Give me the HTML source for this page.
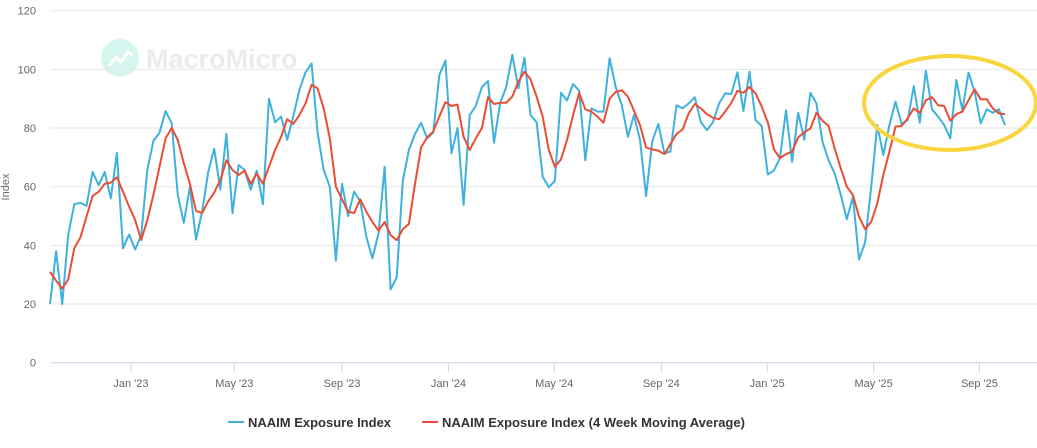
<!DOCTYPE html>
<html><head><meta charset="utf-8"><style>
body{margin:0;background:#fff;font-family:"Liberation Sans",sans-serif;}
svg{display:block}
</style></head><body>
<svg id="chart" width="1037" height="448"></svg>
<script>
const blueValues=[20,38,20,43.5,54,54.5,53.5,65,60.5,65,56,71.5,39,43.7,38.6,43.5,65.7,75.6,78.4,85.8,81.6,57.4,47.7,60,42,51.5,65,73,59,78,51,67.4,65.7,59,65.5,54,90,82,83.9,76,84,93,99,102,78.4,65.7,60,34.8,61,50,58.3,55,43,
35.6,44,66.8,25,29,62,72.5,78,81.8,76.5,78.4,98,103,71.4,80,53.8,84.4,87.5,94,96,75,88.4,94,105,93.5,104,84.4,82,63.4,59.8,62,92,89.4,95,92.7,69,86.7,85.6,85.6,103.8,94,87.8,77,84.4,76,56.8,75.3,81.4,71.4,72,87.8,86.7,88.4,
90.5,82,79.3,82,88.4,91.8,91.6,99,85.8,99.2,82.7,80.7,64.2,65.5,69.7,86,68.5,85.2,76,92,88.4,75.3,69,64.5,57.2,48.9,56.6,35.2,41,60,81,70.8,81,89,81.4,82.7,94.3,81.8,99.5,86.4,83.9,81,76.5,96.4,86,98.9,92.4,81.6,86.4,85.2,86.4,81];
const redValues=[31,28,25.3,28.4,39,42.7,49.8,56.8,58.3,61,61.4,63.2,58.3,53.2,48.6,41.8,48.6,57.2,66.8,76.5,80,76,68,61,51.8,51,55,58,62.3,69,65.7,64,65.5,61,64.5,61,66.8,72.5,77,83,81.4,84.4,88.4,94.7,93.5,86.7,76.5,60,55.7,51.5,51,55.7,51.5,
48,45,48,43.5,41.8,45.5,47.3,61,73.4,76.8,78.8,83.9,88.8,87.5,88,77,72.5,76.5,80,90.5,88.2,88.6,88.6,90.7,95.8,99.2,96.6,90.7,83.9,72.5,66.8,69.3,75.9,84.4,92,86.4,85.6,83.9,81.8,90,92.3,92.9,90.7,86,81,73.4,72.7,72.3,71.1,74.5,78,79.5,85,
88.2,86.7,84.7,83.5,83,85.6,88.6,92.7,92,94,91.8,87.3,82,72.7,69.8,71.1,72,76.8,78.6,79.8,85.2,82.5,80.7,73,66.2,60,57.2,49.8,45.5,48,54.3,64,72,80.5,80.7,83.3,86.7,85.2,89.5,90.5,87.8,87.5,82.5,84.7,85.6,89.5,93.2,89.8,89.8,86.7,85,84.7];
const yTicks=[0,20,40,60,80,100,120];
const xTickLabels=["Jan '23","May '23","Sep '23","Jan '24","May '24","Sep '24","Jan '25","May '25","Sep '25"];
const xTickIndex=[13.3,30.3,48,65.5,82.9,100.5,117.9,135.4,152.8];

const NS="http://www.w3.org/2000/svg";
const svg=document.getElementById('chart');
const L=50,R=1005,T=10.7,B=362.7;
const n=blueValues.length;
const xS=i=>L+i*(R-L)/(n-1);
const yS=v=>B-(v/120)*(B-T);
function mk(tag,attrs,parent){const e=document.createElementNS(NS,tag);for(const k in attrs)e.setAttribute(k,attrs[k]);(parent||svg).appendChild(e);return e;}

// watermark
const wm=mk('g',{});


mk('circle',{cx:120,cy:58,r:19,fill:'#d5f5ee'},wm);
mk('polyline',{points:'109,66 116,57 121,62 128,52 132,55',fill:'none',stroke:'#fff','stroke-width':3},wm);
const wt=mk('text',{x:146,y:68,'font-size':27,'font-weight':'bold',fill:'#ebebeb'},wm);wt.textContent='MacroMicro';

yTicks.forEach(v=>{
  const g=mk('line',{x1:L,x2:1037,y1:yS(v),y2:yS(v),stroke:v===0?'#ccd6eb':'#e6e6e6','stroke-width':1});
  
  
  const t=mk('text',{x:36,y:yS(v)+4,'font-size':11,fill:'#666','text-anchor':'end'});
  t.textContent=v;
  
  
});
const yt=mk('text',{x:0,y:0,'font-size':11,fill:'#666','text-anchor':'middle',transform:'translate(9,187) rotate(-90)'});
yt.textContent='Index';



xTickIndex.forEach((ix,k)=>{
  const x=xS(ix);
  const tk=mk('line',{x1:x,x2:x,y1:B,y2:B+10,stroke:'#ccd6eb'});
  
  
  const t=mk('text',{x:x,y:387,'font-size':11,fill:'#666','text-anchor':'middle'});
  t.textContent=xTickLabels[k];
  
  
});

function series(vals,color,name){
  const p=mk('polyline',{points:vals.map((v,i)=>xS(i).toFixed(1)+','+yS(v).toFixed(1)).join(' '),fill:'none',stroke:color,'stroke-width':2,'stroke-linejoin':'round'});
  
  
}
series(blueValues,'#3eb1dc','naaim-exposure-line');
series(redValues,'#ea4d35','moving-average-line');

const el=mk('ellipse',{cx:950,cy:103,rx:86,ry:47,fill:'none',stroke:'#f9d53e','stroke-width':4});



// legend
const lg1=mk('g',{});


mk('line',{x1:228,x2:244,y1:422,y2:422,stroke:'#3eb1dc','stroke-width':2},lg1);
const l1=mk('text',{x:248,y:427,'font-size':13,'font-weight':'bold',fill:'#333'},lg1);l1.textContent='NAAIM Exposure Index';
const lg2=mk('g',{});


mk('line',{x1:422,x2:438,y1:422,y2:422,stroke:'#ea4d35','stroke-width':2},lg2);
const l2=mk('text',{x:442,y:427,'font-size':13,'font-weight':'bold',fill:'#333'},lg2);l2.textContent='NAAIM Exposure Index (4 Week Moving Average)';
</script>
</body></html>
